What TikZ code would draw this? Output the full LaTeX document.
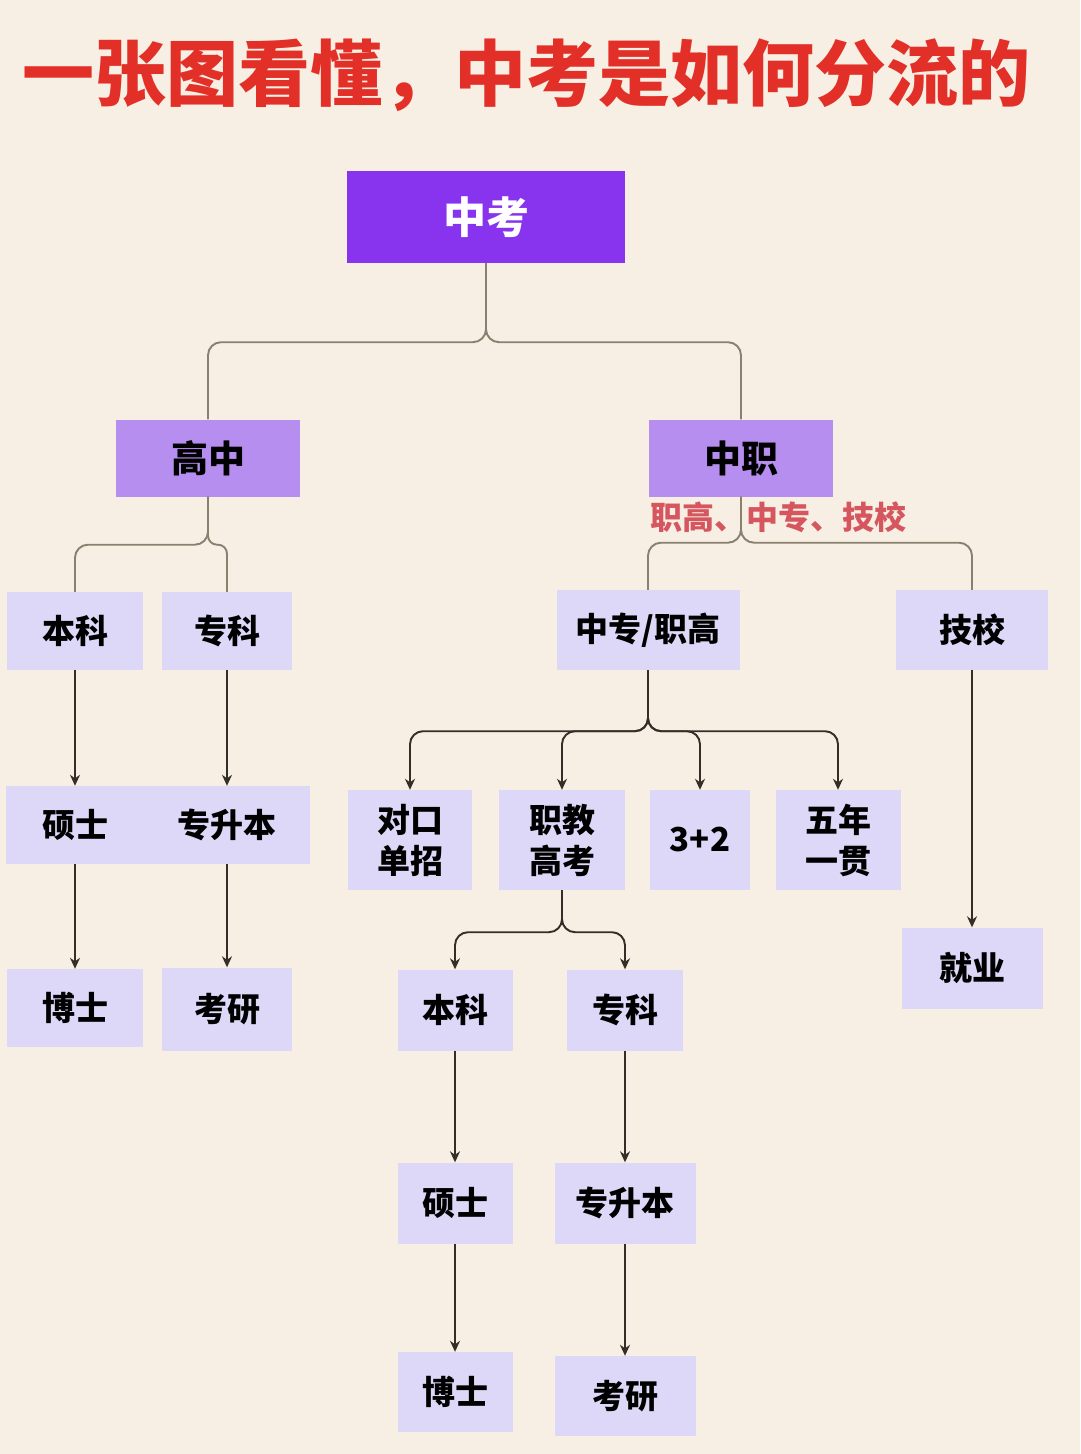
\documentclass[tikz,border=0pt]{standalone}
\usepackage{fontspec}
\setmainfont{Noto Sans CJK SC}
\usepackage{xcolor}
\definecolor{bgcol}{RGB}{247, 239, 227}
\definecolor{topcol}{RGB}{136, 52, 238}
\definecolor{midcol}{RGB}{182, 142, 240}
\definecolor{boxcol}{RGB}{221, 215, 248}
\definecolor{titlered}{RGB}{226, 48, 40}
\definecolor{notered}{RGB}{214, 86, 96}
\definecolor{linegray}{RGB}{138, 128, 112}
\definecolor{linedark}{RGB}{52, 46, 40}
\usepackage{tikz}
\usetikzlibrary{arrows.meta}

\begin{document}
\begin{tikzpicture}[
  x=1pt, y=-1pt,
  top/.style={fill=topcol, text=white, inner sep=0pt, minimum width=278pt, minimum height=92pt, font=\fontsize{43}{50}\selectfont\bfseries},
  mid/.style={fill=midcol, inner sep=0pt, minimum width=184pt, minimum height=77pt, font=\fontsize{37}{44}\selectfont\bfseries},
  box/.style={fill=boxcol, inner sep=0pt, minimum height=78pt, align=center, font=\fontsize{33}{41}\selectfont\bfseries},
  link/.style={draw=linegray, line width=1.9pt, rounded corners=13pt},
  flow/.style={draw=linedark, line width=1.9pt, rounded corners=13pt, -{Stealth[length=11pt,width=10pt]}}
]
  \fill[bgcol] (0,0) rectangle (1080,1454);

  % Title
  \node[text=titlered, font=\fontsize{72}{80}\selectfont\bfseries] (title) at (527,75) {一张图看懂，中考是如何分流的};

  % Top levels
  \node[top] (zk)  at (486,217) {中考};
  \node[mid] (gz)  at (208,458) {高中};
  \node[mid] (zhz) at (741,458) {中职};
  \node[text=notered, anchor=west, inner sep=0pt, font=\fontsize{32}{36}\selectfont\bfseries] (note) at (650,517) {职高、中专、技校};

  % High school side
  \node[box, minimum width=136pt] (gbk)  at (75,631)   {本科};
  \node[box, minimum width=130pt] (gzk)  at (227,631)  {专科};
  \node[box, minimum width=138pt] (gss)  at (75,825)   {硕士};
  \node[box, minimum width=166pt] (gzsb) at (227,825)  {专升本};
  \node[box, minimum width=136pt] (gbs)  at (75,1008)  {博士};
  \node[box, minimum width=130pt, minimum height=83pt] (gky) at (227,1009) {考研};

  % Vocational side
  \node[box, minimum width=183pt, minimum height=80pt] (zzg) at (648,630) {中专/职高};
  \node[box, minimum width=152pt, minimum height=80pt] (jx)  at (972,630) {技校};
  \node[box, minimum width=124pt, minimum height=100pt] (dk) at (410,840) {对口\\单招};
  \node[box, minimum width=126pt, minimum height=100pt] (zj) at (562,840) {职教\\高考};
  \node[box, minimum width=100pt, minimum height=100pt] (sj) at (700,840) {3+2};
  \node[box, minimum width=125pt, minimum height=100pt] (wn) at (838,840) {五年\\一贯};
  \node[box, minimum width=141pt, minimum height=81pt] (jy) at (972,968) {就业};
  \node[box, minimum width=115pt, minimum height=81pt] (rbk)  at (455,1010) {本科};
  \node[box, minimum width=116pt, minimum height=81pt] (rzk)  at (625,1010) {专科};
  \node[box, minimum width=115pt, minimum height=81pt] (rss)  at (455,1203) {硕士};
  \node[box, minimum width=141pt, minimum height=81pt] (rzsb) at (625,1203) {专升本};
  \node[box, minimum width=115pt, minimum height=80pt] (rbs)  at (455,1392) {博士};
  \node[box, minimum width=141pt, minimum height=80pt] (rky)  at (625,1396) {考研};

  % Branches
  \draw[link] (zk.south) -- ++(0,79) -| (gz.north);
  \draw[link] (zk.south) -- ++(0,79) -| (zhz.north);
  \draw[link] (gz.south) -- ++(0,48) -| (gbk.north);
  \draw[link, rounded corners=9pt] (gz.south) -- ++(0,48) -| (gzk.north);
  \draw[link] (zhz.south) -- ++(0,46) -| (zzg.north);
  \draw[link] (zhz.south) -- ++(0,46) -| (jx.north);
  \foreach \n in {dk,zj,sj,wn} {
    \draw[flow] (zzg.south) -- ++(0,61) -| (\n.north);
  }
  \draw[flow] (zj.south) -- ++(0,42) -| (rbk.north);
  \draw[flow] (zj.south) -- ++(0,42) -| (rzk.north);

  % Straight arrows
  \draw[flow] (gbk) -- (gss);
  \draw[flow] (gss) -- (gbs);
  \draw[flow] (gzk) -- (gzsb);
  \draw[flow] (gzsb) -- (gky);
  \draw[flow] (jx) -- (jy);
  \draw[flow] (rbk) -- (rss);
  \draw[flow] (rss) -- (rbs);
  \draw[flow] (rzk) -- (rzsb);
  \draw[flow] (rzsb) -- (rky);
\end{tikzpicture}
\end{document}
